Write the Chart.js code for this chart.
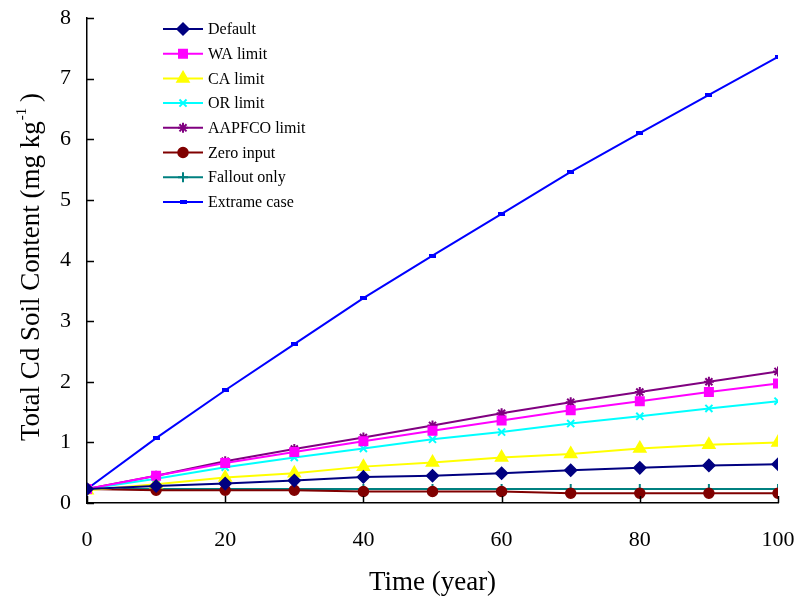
<!DOCTYPE html>
<html>
<head>
<meta charset="utf-8">
<script src="https://cdn.jsdelivr.net/npm/chart.js@4.4.0/dist/chart.umd.min.js"></script>
<style>
  html, body { margin: 0; padding: 0; background: #fff; }
  #wrap { width: 796px; height: 600px; }
</style>
</head>
<body>
<div id="wrap"><canvas id="chart" width="796" height="600"></canvas></div>
<script>
// data
var years = [0, 10, 20, 30, 40, 50, 60, 70, 80, 90, 100];
var defaultVals = [0.23, 0.28, 0.32, 0.37, 0.43, 0.45, 0.49, 0.54, 0.58, 0.62, 0.64];
var waLimit = [0.23, 0.45, 0.66, 0.84, 1.02, 1.19, 1.36, 1.53, 1.68, 1.83, 1.97];
var caLimit = [0.21, 0.31, 0.42, 0.49, 0.60, 0.67, 0.75, 0.81, 0.90, 0.96, 1.00];
var orLimit = [0.23, 0.40, 0.59, 0.75, 0.90, 1.05, 1.17, 1.31, 1.43, 1.56, 1.68];
var aapfcoLimit = [0.23, 0.45, 0.69, 0.89, 1.08, 1.28, 1.48, 1.66, 1.83, 2.00, 2.17];
var zeroInput = [0.23, 0.21, 0.21, 0.21, 0.19, 0.19, 0.19, 0.16, 0.16, 0.16, 0.16];
var falloutOnly = [0.23, 0.23, 0.23, 0.23, 0.23, 0.23, 0.23, 0.23, 0.23, 0.23, 0.23];
var extremeCase = [0.23, 1.07, 1.86, 2.62, 3.38, 4.08, 4.77, 5.46, 6.10, 6.73, 7.36];

var seriesNames = ["Default", "WA limit", "CA limit", "OR limit", "AAPFCO limit", "Zero input", "Fallout only", "Extrame case"];
var yTicks = [0, 1, 2, 3, 4, 5, 6, 7, 8];
var xTicks = [0, 20, 40, 60, 80, 100];

var FONT = '"Liberation Serif", "Times New Roman", serif';

// small flat marker used for the extreme case
function dashMarker(color) {
    var c = document.createElement('canvas');
    c.width = 7; c.height = 4;
    var g = c.getContext('2d');
    g.fillStyle = color;
    g.fillRect(0, 0, 7, 4);
    return c;
}

function pts(vals) {
    return vals.map(function (v, i) { return {x: years[i], y: v}; });
}

function series(label, vals, color, style, radius) {
    return {
        label: label,
        data: pts(vals),
        borderColor: color,
        backgroundColor: color,
        pointBackgroundColor: color,
        pointBorderColor: color,
        borderWidth: 2,
        pointStyle: style,
        pointRadius: radius,
        pointBorderWidth: 1.5,
        tension: 0
    };
}

var datasets = [
    series(seriesNames[0], defaultVals, '#000080', 'rectRot', 6),
    series(seriesNames[1], waLimit, '#ff00ff', 'rect', 6),
    series(seriesNames[2], caLimit, '#ffff00', 'triangle', 7),
    series(seriesNames[3], orLimit, '#00ffff', 'crossRot', 5),
    series(seriesNames[4], aapfcoLimit, '#800080', 'star', 5),
    series(seriesNames[5], zeroInput, '#800000', 'circle', 5),
    series(seriesNames[6], falloutOnly, '#008080', 'cross', 5),
    series(seriesNames[7], extremeCase, '#0000ff', dashMarker('#0000ff'), 4)
];
datasets[3].pointBorderWidth = 2;
datasets[4].pointBorderWidth = 2;
datasets[6].pointBorderWidth = 2;

// inward tick marks, titles and the in-plot legend
var decorPlugin = {
    id: 'decor',
    afterDraw: function (chart) {
        var ctx = chart.ctx, area = chart.chartArea;
        var xs = chart.scales.x, ys = chart.scales.y;
        ctx.save();
        ctx.strokeStyle = '#000';
        ctx.lineWidth = 1.5;
        ctx.beginPath();
        yTicks.forEach(function (t) {
            var p = Math.round(ys.getPixelForValue(t)) + 0.5;
            ctx.moveTo(area.left, p);
            ctx.lineTo(area.left + 7, p);
        });
        xTicks.forEach(function (t) {
            var p = Math.round(xs.getPixelForValue(t)) + 0.5;
            ctx.moveTo(p, area.bottom);
            ctx.lineTo(p, area.bottom - 7);
        });
        ctx.stroke();

        // x title
        ctx.fillStyle = '#000';
        ctx.font = '27px ' + FONT;
        ctx.textAlign = 'center';
        ctx.textBaseline = 'middle';
        ctx.fillText('Time (year)', (area.left + area.right) / 2, 583);

        // y title with superscript
        ctx.translate(31, 267);
        ctx.rotate(-Math.PI / 2);
        var main = 'Total Cd Soil Content (mg kg';
        var sup = '-1';
        var tail = ' )';
        ctx.font = '27px ' + FONT;
        var w1 = ctx.measureText(main).width;
        var w3 = ctx.measureText(tail).width;
        ctx.font = '15px ' + FONT;
        var w2 = ctx.measureText(sup).width;
        var start = -(w1 + w2 + w3) / 2;
        ctx.textAlign = 'left';
        ctx.textBaseline = 'alphabetic';
        ctx.font = '27px ' + FONT;
        ctx.fillText(main, start, 8);
        ctx.font = '15px ' + FONT;
        ctx.fillText(sup, start + w1 + 1, -5);
        ctx.font = '27px ' + FONT;
        ctx.fillText(tail, start + w1 + w2, 8);
        ctx.setTransform(1, 0, 0, 1, 0, 0);

        // legend
        var lx = area.left + 76, ly = area.top + 11, step = 24.7;
        chart.data.datasets.forEach(function (ds, i) {
            var y = ly + i * step;
            ctx.strokeStyle = ds.borderColor;
            ctx.lineWidth = 2;
            ctx.beginPath();
            ctx.moveTo(lx, y);
            ctx.lineTo(lx + 40, y);
            ctx.stroke();
            ctx.fillStyle = ds.pointBackgroundColor;
            ctx.strokeStyle = ds.pointBorderColor;
            ctx.lineWidth = ds.pointBorderWidth;
            Chart.helpers.drawPoint(ctx, {
                pointStyle: ds.pointStyle, radius: ds.pointRadius, rotation: 0, borderWidth: ds.pointBorderWidth
            }, lx + 20, y);
            ctx.fillStyle = '#000';
            ctx.font = '16px ' + FONT;
            ctx.textAlign = 'left';
            ctx.textBaseline = 'middle';
            ctx.fillText(ds.label, lx + 45, y + 1);
        });
        ctx.restore();
    }
};

Chart.defaults.font.family = FONT;
Chart.defaults.color = '#000';

new Chart(document.getElementById('chart').getContext('2d'), {
    type: 'line',
    data: {datasets: datasets},
    options: {
        responsive: false,
        animation: false,
        layout: {padding: {top: 18, right: 18, left: 0, bottom: 0}},
        plugins: {legend: {display: false}, tooltip: {enabled: false}},
        scales: {
            x: {
                type: 'linear', min: 0, max: 100,
                ticks: {stepSize: 20, font: {size: 22}, padding: 24, color: '#000'},
                grid: {display: false, drawTicks: false},
                border: {display: true, color: '#000', width: 1.5},
                afterFit: function (s) {
                    s.height = 97;
                    s.paddingLeft = 0; s.paddingRight = 0;
                }
            },
            y: {
                min: 0, max: 8,
                ticks: {stepSize: 1, font: {size: 22}, padding: 16, color: '#000'},
                grid: {display: false, drawTicks: false},
                border: {display: true, color: '#000', width: 1.5},
                afterFit: function (s) {
                    s.width = 87;
                    s.paddingTop = 0; s.paddingBottom = 0;
                }
            }
        }
    },
    plugins: [decorPlugin]
});
</script>
</body>
</html>
